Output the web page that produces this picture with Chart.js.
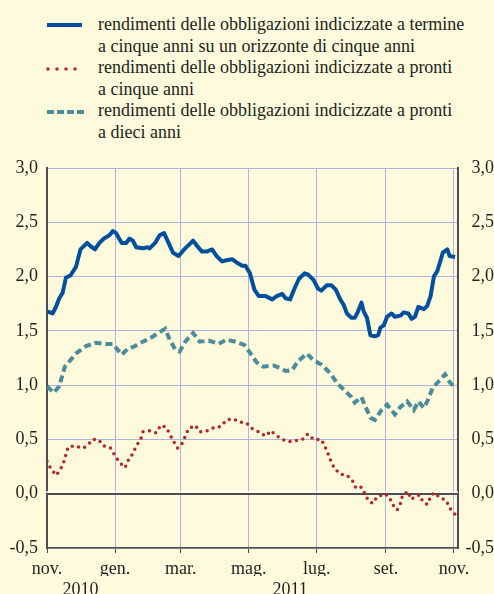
<!DOCTYPE html>
<html>
<head>
<meta charset="utf-8">
<script src="https://cdn.jsdelivr.net/npm/chart.js@4/dist/chart.umd.min.js"></script>
<style>
  html, body { margin: 0; padding: 0; background: #fffadc; }
  #wrap { position: relative; width: 494px; height: 594px; overflow: hidden; }
  #legend-svg { position: absolute; left: 0; top: 0; }
  #legend-text { position: absolute; left: 98px; top: 14px; width: 396px; white-space: nowrap;
    font-family: "Liberation Serif", Tinos, "Nimbus Roman", FreeSerif, "DejaVu Serif", serif;
    font-size: 18px; line-height: 21.6px; color: #231f20; }
  #chart-box { position: absolute; left: 0; top: 0; width: 494px; height: 594px; }
</style>
</head>
<body>
<div id="wrap">
  <svg id="legend-svg" width="494" height="150">
    <line x1="47" y1="25" x2="82" y2="25" stroke="#004f9c" stroke-width="4"/>
    <line x1="48" y1="69" x2="76" y2="69" stroke="#b02a2a" stroke-width="3.5" stroke-linecap="round" stroke-dasharray="0 9"/>
    <line x1="47" y1="112" x2="84" y2="112" stroke="#4a8c99" stroke-width="4" stroke-dasharray="7 3"/>
  </svg>
  <div id="legend-text">
    rendimenti delle obbligazioni indicizzate a termine<br>
    a cinque anni su un orizzonte di cinque anni<br>
    rendimenti delle obbligazioni indicizzate a pronti<br>
    a cinque anni<br>
    rendimenti delle obbligazioni indicizzate a pronti<br>
    a dieci anni
  </div>
  <div id="chart-box"><canvas id="chart"></canvas></div>
</div>
<script>
// days counted from 1 nov 2010
var monthDays = [0, 61, 120, 181, 242, 304, 365];
var monthLabels = ['nov.', 'gen.', 'mar.', 'mag.', 'lug.', 'set.', 'nov.'];
var yearDays = [30, 218];
var yearLabels = ['2010', '2011'];

// rendimenti a termine 5 anni su orizzonte 5 anni
var blueDays = [0,5,8,11,14,17,21,26,30,36,39,43,47,51,56,59,62,67,71,74,77,80,86,90,92,97,101,105,109,113,118,123,127,131,134,139,143,148,152,157,161,166,170,175,178,182,186,190,196,202,206,211,214,218,222,226,231,234,239,243,246,251,255,259,263,266,269,273,276,279,282,284,287,290,294,297,299,302,305,309,312,317,320,324,327,330,333,338,341,344,347,350,353,355,359,361,366];
var blueValues = [1.68,1.66,1.72,1.80,1.85,1.99,2.01,2.09,2.25,2.31,2.28,2.25,2.31,2.35,2.38,2.42,2.40,2.31,2.31,2.35,2.33,2.27,2.26,2.27,2.26,2.31,2.38,2.40,2.31,2.22,2.19,2.25,2.29,2.33,2.29,2.23,2.23,2.25,2.19,2.14,2.15,2.16,2.13,2.10,2.10,2.03,1.88,1.82,1.82,1.79,1.82,1.84,1.80,1.79,1.89,1.98,2.03,2.02,1.97,1.89,1.87,1.92,1.92,1.88,1.79,1.74,1.66,1.62,1.62,1.68,1.76,1.68,1.62,1.46,1.45,1.46,1.53,1.55,1.63,1.66,1.63,1.64,1.67,1.66,1.61,1.63,1.72,1.70,1.73,1.82,2.00,2.05,2.15,2.22,2.25,2.19,2.18];

// rendimenti a pronti 5 anni
var redDays = [0,3,8,12,15,17,19,25,32,36,41,46,51,57,61,65,70,73,77,80,84,86,92,98,102,107,110,113,117,121,124,127,133,137,144,150,156,161,167,173,179,184,190,196,201,205,211,217,224,229,234,239,246,249,252,255,258,263,269,274,277,282,285,288,292,296,303,307,310,314,317,319,324,326,331,334,337,341,344,347,353,358,361,366];
var redValues = [0.30,0.24,0.17,0.22,0.29,0.36,0.43,0.44,0.42,0.44,0.50,0.50,0.44,0.42,0.35,0.29,0.24,0.31,0.37,0.44,0.50,0.57,0.58,0.56,0.63,0.61,0.55,0.49,0.42,0.46,0.53,0.60,0.63,0.57,0.58,0.61,0.62,0.68,0.69,0.66,0.65,0.60,0.57,0.53,0.58,0.54,0.50,0.48,0.49,0.50,0.55,0.50,0.50,0.44,0.37,0.29,0.23,0.18,0.17,0.12,0.05,0.06,0.00,-0.06,-0.09,-0.03,0.00,-0.03,-0.10,-0.15,-0.09,-0.01,0.02,-0.05,-0.03,-0.01,-0.07,-0.10,-0.03,0.01,-0.04,-0.06,-0.13,-0.19];

// rendimenti a pronti 10 anni
var tealDays = [0,6,11,16,21,27,35,44,53,59,63,67,72,79,84,92,100,106,110,115,119,124,131,137,145,154,161,169,177,182,188,194,203,209,214,220,225,233,239,246,254,260,267,273,276,282,287,290,294,300,305,312,317,323,329,333,338,342,346,350,357,361,366];
var tealValues = [0.99,0.93,0.99,1.17,1.23,1.30,1.36,1.39,1.38,1.38,1.33,1.28,1.33,1.36,1.39,1.43,1.48,1.52,1.42,1.33,1.31,1.40,1.48,1.40,1.41,1.38,1.42,1.40,1.37,1.30,1.21,1.17,1.18,1.16,1.13,1.14,1.22,1.29,1.23,1.19,1.11,1.02,0.95,0.89,0.84,0.89,0.77,0.70,0.68,0.77,0.82,0.73,0.80,0.85,0.77,0.85,0.79,0.87,0.98,1.02,1.10,1.03,0.97];

var yTicks = [-0.5, 0, 0.5, 1, 1.5, 2, 2.5, 3];

function pairs(days, vals) {
  return days.map(function(d, i) { return {x: d, y: vals[i]}; });
}

var serif = '"Liberation Serif", Tinos, "Nimbus Roman", FreeSerif, "DejaVu Serif", serif';
var gridBlue = '#aab4de';
var txt = '#231f20';
var axisGrey = '#4d4d4d';

function fmt(v) { return v.toFixed(1).replace('.', ','); }

// white band just above the zero line, as in the original
var zeroBand = {
  id: 'zeroBand',
  beforeDatasetsDraw: function(chart) {
    var c = chart.ctx, a = chart.chartArea;
    var y0 = chart.scales.y.getPixelForValue(0);
    c.save();
    c.strokeStyle = '#ffffff';
    c.lineWidth = 1.5;
    c.beginPath();
    c.moveTo(a.left - 1, y0 - 1.6);
    c.lineTo(a.right, y0 - 1.6);
    c.stroke();
    c.restore();
  }
};

var ctx = document.getElementById('chart');
var chart = new Chart(ctx, {
  type: 'line',
  data: {
    datasets: [{
      label: 'rendimenti delle obbligazioni indicizzate a pronti a cinque anni',
      data: pairs(redDays, redValues),
      borderColor: '#b02a2a',
      borderWidth: 3.5,
      borderDash: [0, 6.5],
      borderCapStyle: 'round',
      pointRadius: 0
    }, {
      label: 'rendimenti delle obbligazioni indicizzate a pronti a dieci anni',
      data: pairs(tealDays, tealValues),
      borderColor: '#4a8c99',
      borderWidth: 4,
      borderDash: [7, 4],
      pointRadius: 0
    }, {
      label: 'rendimenti delle obbligazioni indicizzate a termine a cinque anni su un orizzonte di cinque anni',
      data: pairs(blueDays, blueValues),
      borderColor: '#004f9c',
      borderWidth: 4,
      borderJoinStyle: 'round',
      pointRadius: 0
    }]
  },
  plugins: [zeroBand],
  options: {
    responsive: true,
    maintainAspectRatio: false,
    animation: false,
    layout: { padding: { top: 168, left: 0, right: 0, bottom: 0 } },
    plugins: { legend: { display: false }, tooltip: { enabled: false } },
    scales: {
      x: {
        type: 'linear', position: 'bottom', min: 0, max: 368.6,
        afterBuildTicks: function(s) { s.ticks = monthDays.map(function(v) { return {value: v}; }); },
        afterFit: function(s) { s.height = 28; },
        grid: { color: gridBlue, tickColor: axisGrey, tickLength: 5, lineWidth: 1 },
        border: { color: axisGrey, width: 1.5 },
        ticks: {
          autoSkip: false, maxRotation: 0, padding: 5, color: txt,
          font: { family: serif, size: 18 },
          callback: function(v, i) { return monthLabels[i]; }
        }
      },
      x2: {
        type: 'linear', position: 'bottom', min: 0, max: 368.6,
        afterBuildTicks: function(s) { s.ticks = yearDays.map(function(v) { return {value: v}; }); },
        afterFit: function(s) { s.height = 18; },
        grid: { display: false, drawTicks: false },
        border: { display: false },
        ticks: {
          autoSkip: false, maxRotation: 0, padding: 3, color: txt,
          font: { family: serif, size: 18 },
          callback: function(v, i) { return yearLabels[i]; }
        }
      },
      y: {
        position: 'left', min: -0.5, max: 3,
        afterBuildTicks: function(s) { s.ticks = yTicks.map(function(v) { return {value: v}; }); },
        afterFit: function(s) { s.width = 47; },
        grid: {
          drawTicks: false,
          color: function(c) { return c.tick && c.tick.value === 0 ? axisGrey : gridBlue; },
          lineWidth: function(c) { return c.tick && c.tick.value === 0 ? 2 : 1; }
        },
        border: { color: axisGrey, width: 2 },
        ticks: { padding: 9, color: txt, font: { family: serif, size: 18 }, callback: fmt }
      },
      y2: {
        position: 'right', min: -0.5, max: 3,
        afterBuildTicks: function(s) { s.ticks = yTicks.map(function(v) { return {value: v}; }); },
        afterFit: function(s) { s.width = 36; },
        grid: { drawOnChartArea: false, drawTicks: false },
        border: { color: axisGrey, width: 2 },
        ticks: { padding: 4, crossAlign: 'far', color: txt, font: { family: serif, size: 18 }, callback: fmt }
      }
    }
  }
});
</script>
</body>
</html>
